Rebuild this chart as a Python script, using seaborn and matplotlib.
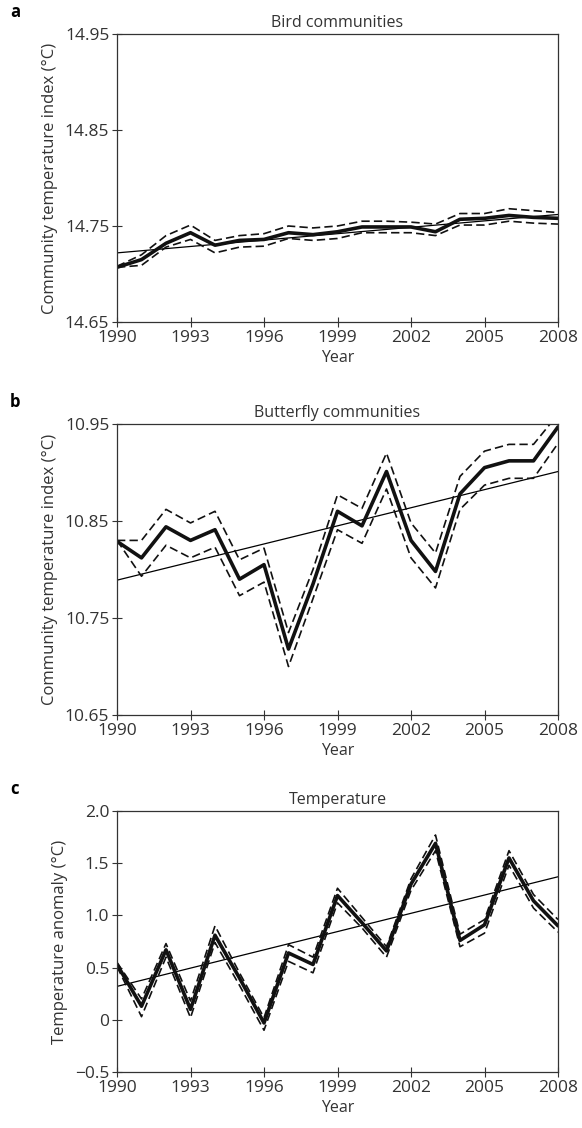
import matplotlib
matplotlib.use("Agg")
import matplotlib.pyplot as plt
import numpy as np
import pandas as pd
import seaborn as sns

years = list(range(1990, 2009))
trend_years = [1990, 2008]

# panel a - birds
bird_mean = [14.707, 14.715, 14.732, 14.743, 14.730, 14.735, 14.736, 14.743, 14.741, 14.744,
             14.749, 14.749, 14.749, 14.744, 14.757, 14.758, 14.761, 14.759, 14.758]
bird_upper = [14.708, 14.720, 14.740, 14.751, 14.735, 14.740, 14.742, 14.750, 14.748, 14.750,
              14.755, 14.755, 14.754, 14.752, 14.763, 14.763, 14.768, 14.766, 14.764]
bird_lower = [14.707, 14.709, 14.728, 14.736, 14.722, 14.728, 14.729, 14.737, 14.735, 14.737,
              14.743, 14.743, 14.743, 14.740, 14.751, 14.751, 14.755, 14.753, 14.752]
bird_trend = [14.722, 14.762]

# panel b - butterflies
fly_mean = [10.829, 10.812, 10.844, 10.830, 10.841, 10.790, 10.805, 10.718, 10.785, 10.860,
            10.845, 10.901, 10.830, 10.798, 10.878, 10.905, 10.912, 10.912, 10.947]
fly_upper = [10.830, 10.830, 10.862, 10.848, 10.860, 10.810, 10.822, 10.735, 10.800, 10.877,
             10.863, 10.920, 10.848, 10.817, 10.896, 10.922, 10.929, 10.929, 10.960]
fly_lower = [10.830, 10.793, 10.825, 10.812, 10.823, 10.773, 10.787, 10.700, 10.770, 10.841,
             10.827, 10.883, 10.812, 10.781, 10.862, 10.887, 10.894, 10.894, 10.930]
fly_trend = [10.789, 10.901]

# panel c - temperature
temp_mean = [0.53, 0.13, 0.67, 0.10, 0.81, 0.40, -0.03, 0.64, 0.53, 1.19,
             0.93, 0.66, 1.30, 1.69, 0.76, 0.91, 1.55, 1.14, 0.90]
temp_upper = [0.55, 0.20, 0.73, 0.18, 0.90, 0.45, 0.02, 0.72, 0.60, 1.26,
              0.98, 0.70, 1.35, 1.77, 0.82, 0.96, 1.62, 1.20, 0.96]
temp_lower = [0.51, 0.03, 0.60, 0.02, 0.74, 0.33, -0.10, 0.56, 0.45, 1.12,
              0.88, 0.60, 1.24, 1.62, 0.70, 0.83, 1.48, 1.07, 0.84]
temp_trend = [0.32, 1.37]

sns.set_style("ticks")
plt.rcParams['font.family'] = ['Open Sans', 'DejaVu Sans']
plt.rcParams['text.color'] = '#333333'
plt.rcParams['axes.labelcolor'] = '#333333'
plt.rcParams['xtick.color'] = '#333333'
plt.rcParams['ytick.color'] = '#333333'

fig = plt.figure(figsize=(5.82, 11.28), dpi=100)

W, H = 582, 1128
def add_ax(top, bottom):
    return fig.add_axes([117 / W, 1 - bottom / H, 441 / W, (bottom - top) / H])

panels = [
    dict(letter='a', title='Bird communities', box=(34, 322), mean=bird_mean, up=bird_upper,
         lo=bird_lower, trend=bird_trend, ylim=(14.65, 14.95), yticks=[14.65, 14.75, 14.85, 14.95],
         ylabels=['14.65', '14.75', '14.85', '14.95'], ylabel='Community temperature index (°C)'),
    dict(letter='b', title='Butterfly communities', box=(424, 715), mean=fly_mean, up=fly_upper,
         lo=fly_lower, trend=fly_trend, ylim=(10.65, 10.95), yticks=[10.65, 10.75, 10.85, 10.95],
         ylabels=['10.65', '10.75', '10.85', '10.95'], ylabel='Community temperature index (°C)'),
    dict(letter='c', title='Temperature', box=(811, 1072), mean=temp_mean, up=temp_upper,
         lo=temp_lower, trend=temp_trend, ylim=(-0.5, 2.0), yticks=[-0.5, 0, 0.5, 1.0, 1.5, 2.0],
         ylabels=['\u22120.5', '0', '0.5', '1.0', '1.5', '2.0'], ylabel='Temperature anomaly (°C)'),
]

for p in panels:
    ax = add_ax(*p['box'])
    df = pd.DataFrame({'Year': years, 'mean': p['mean'], 'upper': p['up'], 'lower': p['lo']})
    tr = pd.DataFrame({'Year': trend_years, 'trend': p['trend']})
    sns.lineplot(data=tr, x='Year', y='trend', ax=ax, color='black', lw=0.9)
    sns.lineplot(data=df, x='Year', y='upper', ax=ax, color='#111111', lw=1.2,
                 linestyle=(0, (5, 2.5)))
    sns.lineplot(data=df, x='Year', y='lower', ax=ax, color='#111111', lw=1.2,
                 linestyle=(0, (5, 2.5)))
    sns.lineplot(data=df, x='Year', y='mean', ax=ax, color='#111111', lw=2.6)

    ax.set_xlim(1990, 2008)
    ax.set_ylim(*p['ylim'])
    ax.set_xticks(list(range(1990, 2009, 3)))
    ax.set_yticks(p['yticks'])
    ax.set_yticklabels(p['ylabels'])
    ax.tick_params(direction='inout', length=7, width=0.8, labelsize=12.5, pad=2)
    for s in ax.spines.values():
        s.set_visible(True)
        s.set_linewidth(0.9)
        s.set_color('#333333')
    ax.set_xlabel('Year', fontsize=11.5, labelpad=3)
    ax.set_ylabel(p['ylabel'], fontsize=12, labelpad=5)
    ax.set_title(p['title'], fontsize=11.5, pad=5)
    top = p['box'][0]
    fig.text(10 / W, 1 - (top - 22) / H, p['letter'], fontsize=12, fontweight='bold',
             color='black', va='center', ha='left')

fig.savefig('out.png', dpi=100)
